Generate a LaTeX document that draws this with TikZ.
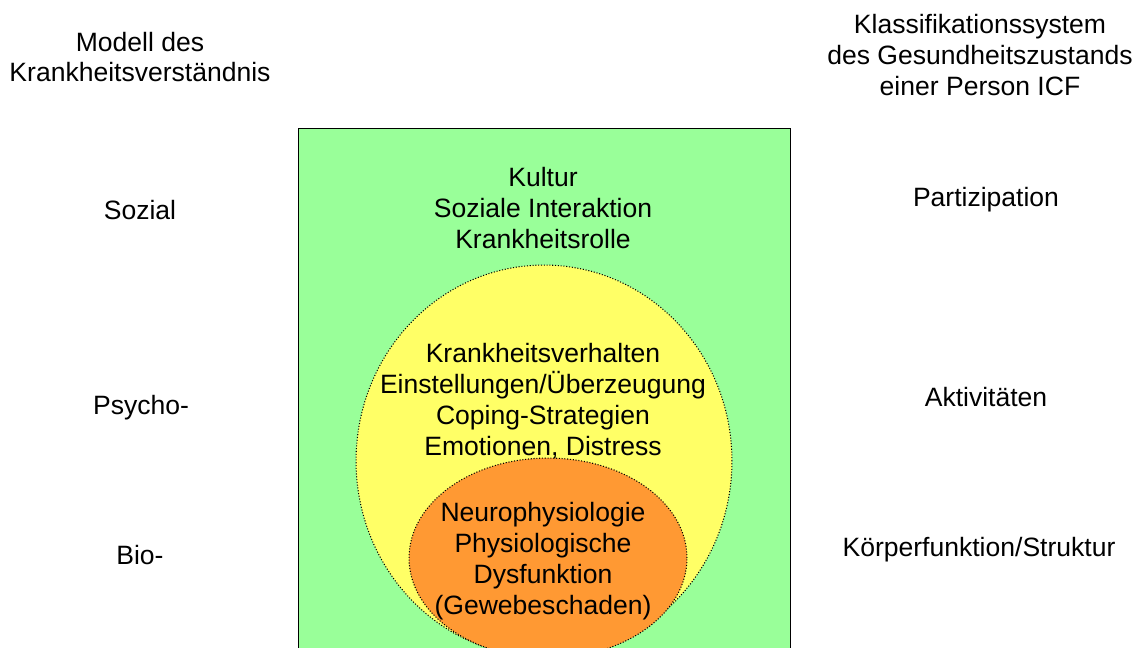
\documentclass[tikz,border=0pt]{standalone}
\usepackage{fontspec}
\setmainfont{Liberation Sans}
\usetikzlibrary{positioning}
\usetikzlibrary{shapes.geometric}
\definecolor{socialgreen}{HTML}{99FF99}
\definecolor{psychoyellow}{HTML}{FFFF66}
\definecolor{bioorange}{HTML}{FF9933}

\begin{document}
\begin{tikzpicture}[
  x=0.02cm, y=-0.02cm,
  font=\fontsize{15.1}{17.6}\selectfont,
  label/.style={align=center, inner sep=0pt},
  layer/.style={draw, densely dotted, line width=0.6pt, ellipse, inner sep=0pt}
]

\useasboundingbox (0,0) rectangle (1142,647);
\clip (0,0) rectangle (1142,647);

% nested levels
\node[draw, fill=socialgreen, minimum width=9.84cm, minimum height=12cm, anchor=north west, inner sep=0pt] (sozial) at (298,128) {};
\node[layer, fill=psychoyellow, minimum width=7.52cm, minimum height=7.84cm] (psycho) at (544,461) {};
\node[layer, fill=bioorange, minimum width=5.56cm, minimum height=4.0cm] (bio) at (548,558) {};

% texts inside
\node[label] (sozialtext) at (543,208) {Kultur\\Soziale Interaktion\\Krankheitsrolle};
\node[label] (psychotext) at (543,401) {Krankheitsverhalten\\Einstellungen/Überzeugung\\Coping-Strategien\\Emotionen, Distress};
\node[label] (biotext) at (543,561) {Neurophysiologie\\Physiologische\\Dysfunktion\\(Gewebeschaden)};

% left column
\node[label] (modell) at (140,57) {Modell des\\Krankheitsverständnis};
\node[label] (lsozial) at (140,210) {Sozial};
\node[label] (lpsycho) at (141,408) {Psycho-};
\node[label] (lbio) at (140,555) {Bio-};

% right column
\node[label] (icf) at (980,55) {Klassifikationssystem\\des Gesundheitszustands\\einer Person ICF};
\node[label] (rpart) at (986,200) {Partizipation};
\node[label] (rakt) at (986,397) {Aktivitäten};
\node[label] (rkoerper) at (979,550) {Körperfunktion/Struktur};

\end{tikzpicture}
\end{document}
